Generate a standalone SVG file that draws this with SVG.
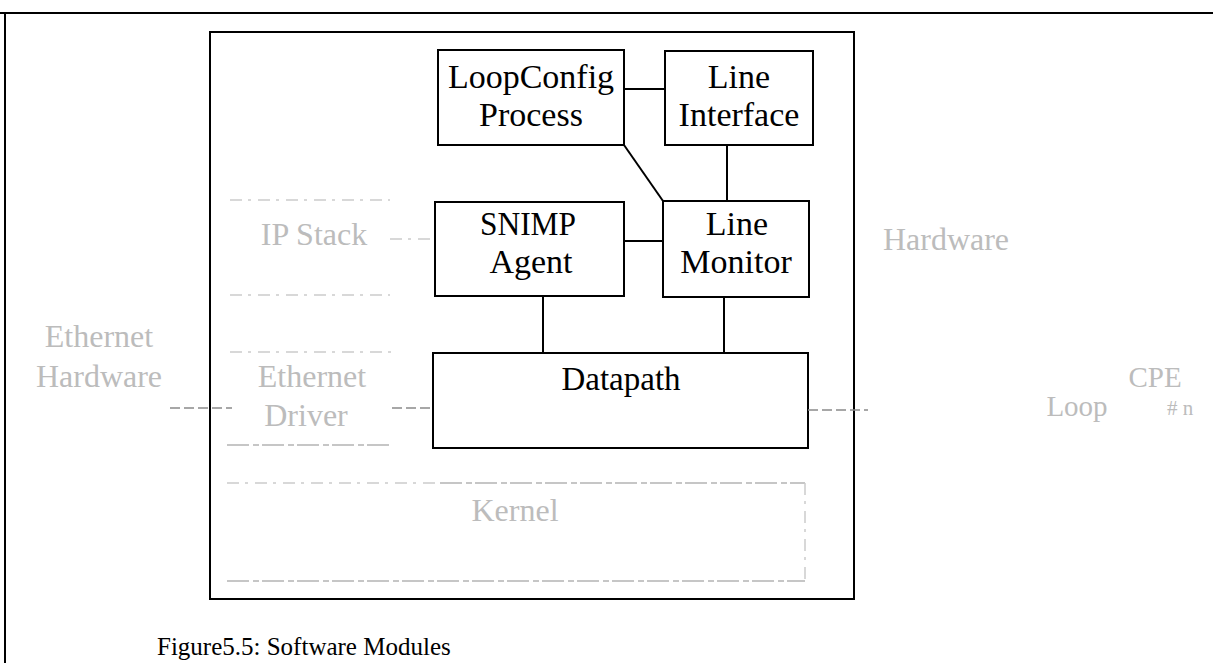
<svg xmlns="http://www.w3.org/2000/svg" width="1213" height="663" viewBox="0 0 1213 663">
  <style>
    .frame { fill: none; stroke: #000; stroke-width: 2; }
    .box { fill: #fff; stroke: #000; stroke-width: 2; }
    .wire { fill: none; stroke: #000; stroke-width: 2; }
    .label { font-family: "Liberation Serif", "Times New Roman", serif; font-size: 34px; fill: #000; text-anchor: middle; }
    .faint { font-family: "Liberation Serif", "Times New Roman", serif; font-size: 32px; fill: #bcbcbc; text-anchor: middle; }
    .ghost { fill: none; stroke: #cccccc; stroke-width: 1.5; stroke-dasharray: 12 6 3 7; }
    .ghost-dark { fill: none; stroke: #b4b4b4; stroke-width: 1.5; stroke-dasharray: 22 4 6 3; }
    .stub { fill: none; stroke: #8a8a8a; stroke-width: 1.5; stroke-dasharray: 10 4; }
    .caption { font-family: "Liberation Serif", "Times New Roman", serif; font-size: 25px; fill: #000; }
  </style>

  <rect width="1213" height="663" fill="#fff"/>

  <!-- page frame: top rule and left rule -->
  <g id="page-frame">
    <line class="frame" x1="0" y1="13" x2="1213" y2="13"/>
    <line class="frame" x1="5" y1="13" x2="5" y2="663"/>
  </g>

  <!-- enclosing line-card box -->
  <g id="line-card">
    <rect class="frame" x="210" y="32" width="644" height="567"/>
  </g>

  <!-- faded surrounding modules -->
  <g id="ip-stack">
    <line class="ghost" x1="230" y1="200" x2="390" y2="200"/>
    <line class="ghost" x1="230" y1="295" x2="390" y2="295"/>
    <text class="faint" x="314" y="245">IP Stack</text>
  </g>
  <g id="ethernet-driver">
    <line class="ghost" x1="230" y1="352" x2="392" y2="352"/>
    <line class="ghost-dark" x1="227" y1="445" x2="392" y2="445"/>
    <text class="faint" x="312" y="387">Ethernet</text>
    <text class="faint" x="306" y="426">Driver</text>
  </g>
  <g id="kernel">
    <line class="ghost" x1="227" y1="483" x2="440" y2="483"/>
    <line class="ghost-dark" x1="440" y1="483" x2="805" y2="483"/>
    <line class="ghost" x1="805" y1="483" x2="805" y2="581"/>
    <line class="ghost-dark" x1="227" y1="581" x2="805" y2="581"/>
    <text class="faint" x="515" y="521">Kernel</text>
  </g>
  <g id="ethernet-hardware">
    <text class="faint" x="99" y="347">Ethernet</text>
    <text class="faint" x="99" y="387">Hardware</text>
  </g>
  <g id="line-hardware">
    <text class="faint" x="946" y="250">Hardware</text>
  </g>
  <g id="cpe-loop">
    <text class="faint" x="1155" y="387" style="font-size:29px">CPE</text>
    <text class="faint" x="1077" y="416" style="font-size:29px">Loop</text>
    <text class="faint" x="1180" y="415" style="font-size:21px"># n</text>
  </g>

  <!-- module boxes -->
  <g id="loopconfig-process">
    <rect class="box" x="438" y="50" width="186" height="95"/>
    <text class="label"><tspan x="531" y="88">LoopConfig</tspan><tspan x="531" y="126">Process</tspan></text>
  </g>
  <g id="line-interface">
    <rect class="box" x="665" y="51" width="148" height="94"/>
    <text class="label"><tspan x="739" y="88">Line</tspan><tspan x="739" y="126">Interface</tspan></text>
  </g>
  <g id="snmp-agent">
    <rect class="box" x="435" y="202" width="189" height="94"/>
    <text class="label"><tspan x="528" y="235" textLength="96" lengthAdjust="spacingAndGlyphs">SNIMP</tspan><tspan x="531" y="273">Agent</tspan></text>
  </g>
  <g id="line-monitor">
    <rect class="box" x="663" y="201" width="146" height="96"/>
    <text class="label"><tspan x="737" y="235">Line</tspan><tspan x="736" y="273">Monitor</tspan></text>
  </g>
  <g id="datapath">
    <rect class="box" x="433" y="353" width="375" height="95"/>
    <text class="label" x="621" y="390" style="font-size:33px">Datapath</text>
  </g>

  <!-- connectors -->
  <g id="connectors">
    <line class="wire" x1="624" y1="89" x2="665" y2="89"/>
    <line class="wire" x1="624" y1="145" x2="663" y2="201"/>
    <line class="wire" x1="727" y1="145" x2="727" y2="201"/>
    <line class="wire" x1="624" y1="241" x2="663" y2="241"/>
    <line class="wire" x1="543" y1="296" x2="543" y2="353"/>
    <line class="wire" x1="724" y1="297" x2="724" y2="353"/>
    <line class="ghost" x1="390" y1="239" x2="435" y2="239"/>
    <line class="stub" x1="170" y1="408" x2="232" y2="408"/>
    <line class="stub" x1="392" y1="408" x2="433" y2="408"/>
    <line class="stub" x1="808" y1="410" x2="868" y2="410"/>
  </g>

  <text class="caption" x="157" y="655">Figure5.5: Software Modules</text>
</svg>
